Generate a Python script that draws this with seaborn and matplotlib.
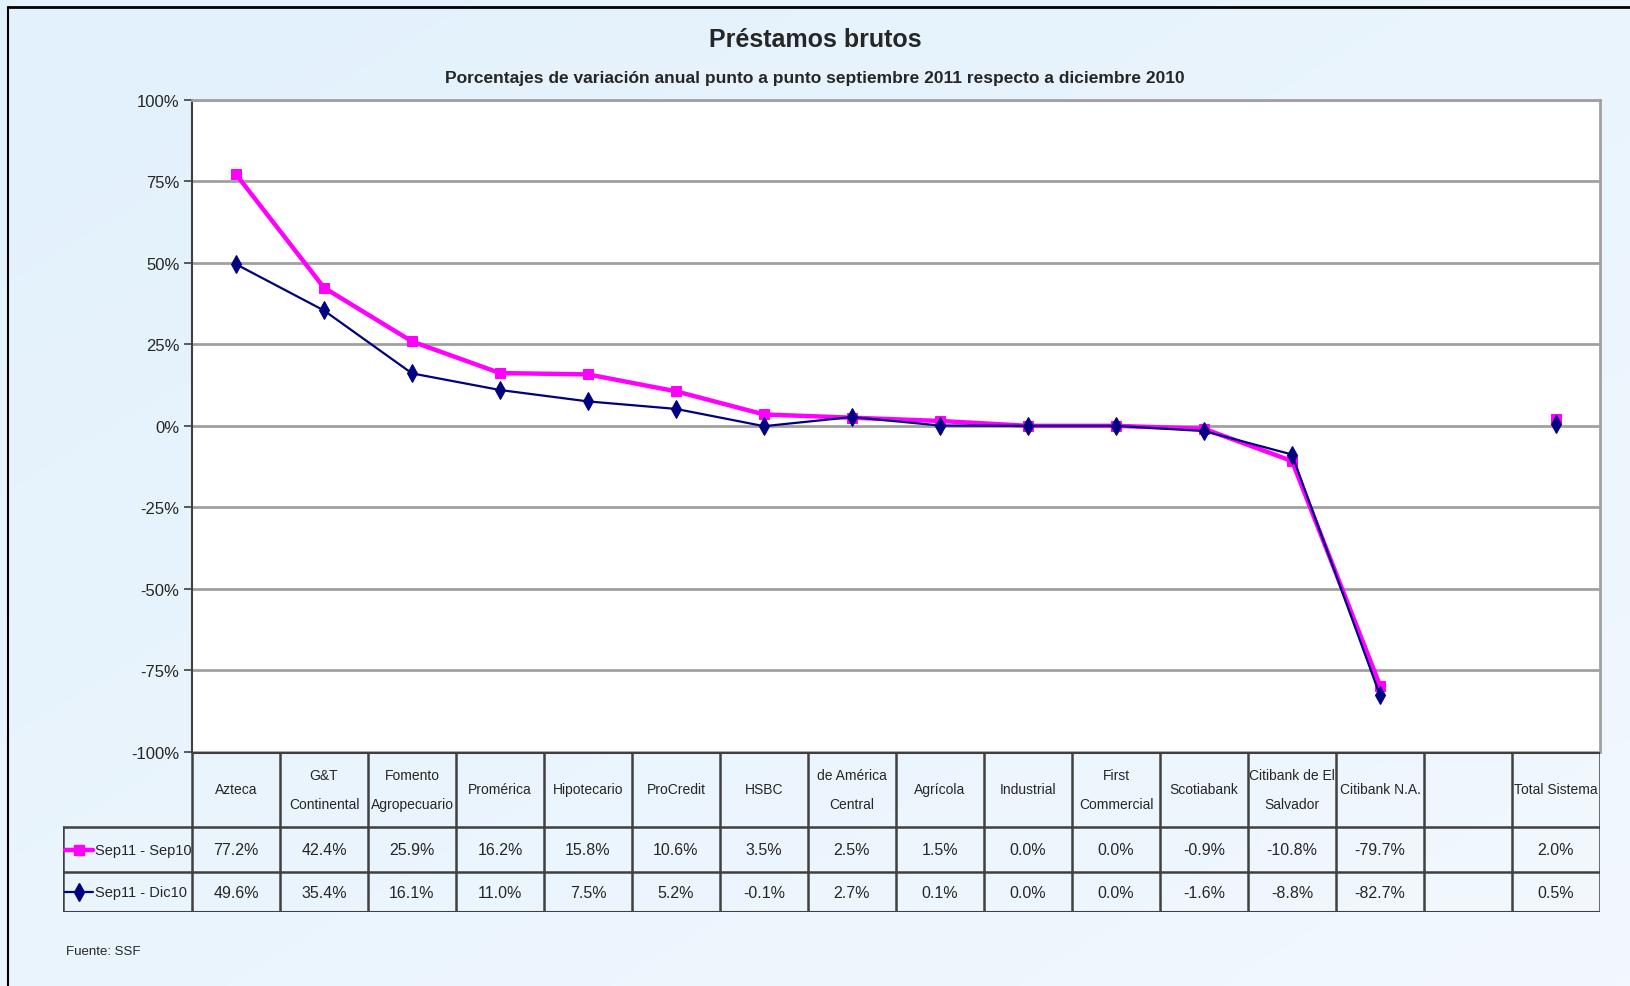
import numpy as np
import pandas as pd
import matplotlib.pyplot as plt
import seaborn as sns
from matplotlib.lines import Line2D

# datos
bancos = ["Azteca", "G&T\nContinental", "Fomento\nAgropecuario", "Promérica", "Hipotecario",
          "ProCredit", "HSBC", "de América\nCentral", "Agrícola", "Industrial",
          "First\nCommercial", "Scotiabank", "Citibank de El\nSalvador", "Citibank N.A.",
          "", "Total Sistema"]
sep11_sep10 = [77.2, 42.4, 25.9, 16.2, 15.8, 10.6, 3.5, 2.5, 1.5, 0.0, 0.0, -0.9, -10.8, -79.7, np.nan, 2.0]
sep11_dic10 = [49.6, 35.4, 16.1, 11.0, 7.5, 5.2, -0.1, 2.7, 0.1, 0.0, 0.0, -1.6, -8.8, -82.7, np.nan, 0.5]
series = ["Sep11 - Sep10", "Sep11 - Dic10"]
y_ticks = [-100, -75, -50, -25, 0, 25, 50, 75, 100]

estilos = {
    "Sep11 - Sep10": dict(color="#FF00FF", lw=3.2, marker="s", ms=7),
    "Sep11 - Dic10": dict(color="#000080", lw=1.6, marker="d", ms=9),
}

df = pd.DataFrame({"x": range(len(bancos)), "banco": bancos,
                   "Sep11 - Sep10": sep11_sep10, "Sep11 - Dic10": sep11_dic10})
# tramo: la columna vacia corta la linea
df["tramo"] = (df["banco"] == "").cumsum()
largo = df.melt(id_vars=["x", "banco", "tramo"], value_vars=series,
                var_name="serie", value_name="valor").dropna()

sns.set_style("white")
plt.rcParams["font.family"] = ["Liberation Sans", "DejaVu Sans"]

fig = plt.figure(figsize=(16.3, 9.87), dpi=100)

# fondo celeste con degradado
bg = fig.add_axes([0, 0, 1, 1], zorder=-10)
gx, gy = np.meshgrid(np.linspace(0, 1, 200), np.linspace(0, 1, 200))
grad = gx * 0.5 + gy * 0.5
bg.imshow(grad, cmap=sns.blend_palette(["#E2F1FC", "#F2F8FE"], as_cmap=True),
          extent=[0, 1, 0, 1], aspect="auto", origin="upper")
bg.set_xlim(0, 1)
bg.set_ylim(0, 1)
bg.axis("off")
bg.plot([8 / 1630, 8 / 1630], [1 - 8 / 987, 0], color="black", lw=1.5)
bg.plot([8 / 1630, 1], [1 - 8 / 987, 1 - 8 / 987], color="black", lw=2)

# grafico de lineas
ax = fig.add_axes([192 / 1630, 1 - 752.7 / 987, 1408 / 1630, (752.7 - 101) / 987])
ax.set_facecolor("white")
for s in series:
    st = estilos[s]
    sub = largo[largo["serie"] == s]
    for t, tr in sub.groupby("tramo"):
        sns.lineplot(data=tr, x="x", y="valor", ax=ax, color=st["color"], linewidth=st["lw"],
                     marker=st["marker"], markersize=st["ms"], markeredgecolor=st["color"],
                     estimator=None, legend=False, zorder=3)

ax.set_xlim(-0.5, len(bancos) - 0.5)
ax.set_ylim(-100, 100)
ax.set_yticks(y_ticks)
ax.set_yticklabels([f"{v}%" for v in y_ticks], fontsize=12)
ax.set_xticks([])
ax.set_xlabel("")
ax.set_ylabel("")
ax.grid(axis="y", color="#A0A0A0", lw=2)
ax.set_axisbelow(True)
ax.tick_params(axis="y", left=True, length=6, width=1.2, color="#404040", pad=3)
for side in ["top", "right"]:
    ax.spines[side].set_color("#A0A0A0")
    ax.spines[side].set_linewidth(2)
ax.spines["left"].set_color("#404040")
ax.spines["left"].set_linewidth(1.5)
ax.spines["bottom"].set_visible(False)

# tabla de datos
izq = -0.5 - 129 / 88
tb = fig.add_axes([63 / 1630, 1 - 913 / 987, 1537 / 1630, 160.3 / 987])
tb.set_xlim(izq, len(bancos) - 0.5)
tb.set_ylim(0, 1)
tb.axis("off")
y_h, y_1 = 0.530, 0.2495
lc = "#404040"
tb.plot([-0.5, len(bancos) - 0.5], [1, 1], color=lc, lw=2.2)
tb.plot([izq, len(bancos) - 0.5], [y_h, y_h], color=lc, lw=1.8)
tb.plot([izq, len(bancos) - 0.5], [y_1, y_1], color=lc, lw=1.8)
tb.plot([izq, len(bancos) - 0.5], [0, 0], color=lc, lw=2.2)
tb.plot([izq, izq], [0, y_h], color=lc, lw=1.8)
for k in range(len(bancos) + 1):
    tb.plot([k - 0.5, k - 0.5], [0, 1], color=lc, lw=1.8)

for i, b in enumerate(bancos):
    tb.text(i, (1 + y_h) / 2, b, ha="center", va="center", fontsize=10, linespacing=2.3)
    for s, yc in zip(series, [(y_h + y_1) / 2, y_1 / 2]):
        v = df[s][i]
        if not np.isnan(v):
            tb.text(i, yc, f"{v:.1f}%", ha="center", va="center", fontsize=11.5)

for s, yc in zip(series, [(y_h + y_1) / 2, y_1 / 2]):
    st = estilos[s]
    tb.add_line(Line2D([izq + 0.02, izq + 0.34], [yc, yc], color=st["color"], lw=st["lw"]))
    tb.plot([izq + 0.18], [yc], marker=st["marker"], ms=st["ms"], color=st["color"])
    tb.text(izq + 0.36, yc, s, ha="left", va="center", fontsize=10.5)

# titulos
fig.text(0.5, 1 - 40 / 987, "Préstamos brutos", ha="center", va="center",
         fontsize=18, fontweight="bold")
fig.text(0.5, 1 - 78 / 987, "Porcentajes de variación anual punto a punto septiembre 2011 respecto a diciembre 2010",
         ha="center", va="center", fontsize=12.5, fontweight="bold")
fig.text(66 / 1630, 1 - 952 / 987, "Fuente: SSF", ha="left", va="center", fontsize=9.5)

fig.savefig("out.png", dpi=100)
